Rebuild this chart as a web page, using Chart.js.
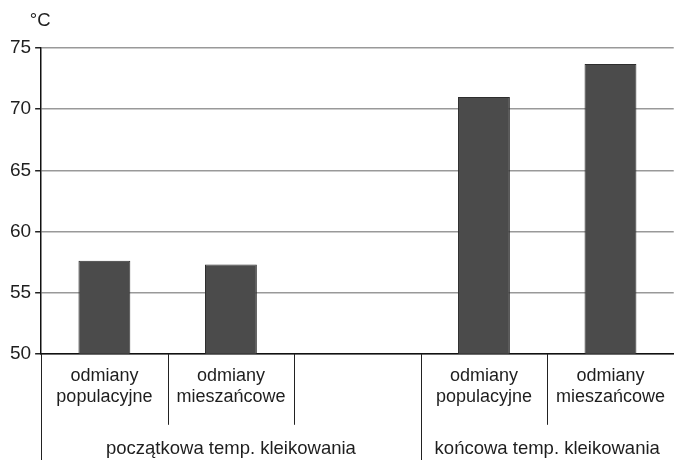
<!DOCTYPE html>
<html>
<head>
<meta charset="utf-8">
<script src="https://cdn.jsdelivr.net/npm/chart.js@4/dist/chart.umd.min.js"></script>
<style>
  html, body { margin: 0; padding: 0; background: #fff; }
  #wrap { width: 676px; height: 460px; }
</style>
</head>
<body>
<div id="wrap"><canvas id="chart"></canvas></div>
<script>
// categories (5 slots, the middle one is an empty gap between groups)
const categories = [
  ['odmiany', 'populacyjne'],
  ['odmiany', 'mieszańcowe'],
  '',
  ['odmiany', 'populacyjne'],
  ['odmiany', 'mieszańcowe']
];
const temps = [57.6, 57.3, null, 71.0, 73.7];
const groups = ['początkowa temp. kleikowania', 'końcowa temp. kleikowania'];
const groupSpans = [[0, 2], [3, 4]];
const yTicks = [50, 55, 60, 65, 70, 75];

const FONT = '"Liberation Sans", Arial, sans-serif';

// separators under the x axis and the group captions
const axisDecor = {
  id: 'axisDecor',
  afterDraw(chart) {
    const { ctx, chartArea } = chart;
    const x = chart.scales.x;
    const bottom = chartArea.bottom;
    const half = (x.getPixelForValue(1) - x.getPixelForValue(0)) / 2;
    ctx.save();
    ctx.strokeStyle = '#222';
    ctx.lineWidth = 1;
    // boundaries between categories
    for (let i = 1; i < categories.length; i++) {
      const bx = Math.round(x.getPixelForValue(i) - half) + 0.5;
      const isGroupEdge = i === groupSpans[1][0];
      ctx.beginPath();
      ctx.moveTo(bx, bottom);
      ctx.lineTo(bx, isGroupEdge ? chart.height : bottom + 71);
      ctx.stroke();
    }
    // y axis line continued down
    const lx = Math.round(chartArea.left) + 0.5;
    ctx.beginPath();
    ctx.moveTo(lx, bottom);
    ctx.lineTo(lx, chart.height);
    ctx.stroke();

    // group labels
    ctx.fillStyle = '#1e1e1e';
    ctx.font = '18.5px ' + FONT;
    ctx.textAlign = 'center';
    ctx.textBaseline = 'middle';
    groupSpans.forEach((span, gi) => {
      const l = gi === 0 ? chartArea.left : x.getPixelForValue(span[0]) - half;
      const r = gi === groups.length - 1 ? chartArea.right : x.getPixelForValue(span[1]) + half;
      ctx.fillText(groups[gi], (l + r) / 2, bottom + 95);
    });

    // unit above the y axis
    ctx.font = '18.5px ' + FONT;
    ctx.textAlign = 'center';
    ctx.fillText('°C', chartArea.left - 1, chartArea.top - 27);
    ctx.restore();
  }
};

new Chart(document.getElementById('chart'), {
  type: 'bar',
  data: {
    labels: categories,
    datasets: [{
      data: temps,
      backgroundColor: '#4b4b4b',
      borderColor: '#2e2e2e',
      borderWidth: 1,
      barPercentage: 0.41,
      categoryPercentage: 1
    }]
  },
  options: {
    responsive: true,
    maintainAspectRatio: false,
    animation: false,
    layout: { padding: { top: 48, right: 0, bottom: 41, left: 6 } },
    plugins: { legend: { display: false }, tooltip: { enabled: false } },
    scales: {
      x: {
        grid: { display: false, drawTicks: false },
        border: { display: true, color: '#111', width: 1.5 },
        ticks: {
          color: '#1e1e1e',
          font: { family: FONT, size: 18 },
          lineHeight: 1.15,
          padding: 11,
          maxRotation: 0,
          autoSkip: false
        }
      },
      y: {
        min: yTicks[0],
        max: yTicks[yTicks.length - 1],
        afterBuildTicks: (axis) => { axis.ticks = yTicks.map(v => ({ value: v })); },
        grid: { color: '#999', lineWidth: 1.5, tickLength: 6, tickColor: '#222' },
        border: { display: true, color: '#111', width: 1.5 },
        ticks: {
          color: '#1e1e1e',
          font: { family: FONT, size: 19 },
          padding: 4
        }
      }
    }
  },
  plugins: [axisDecor]
});
</script>
</body>
</html>
